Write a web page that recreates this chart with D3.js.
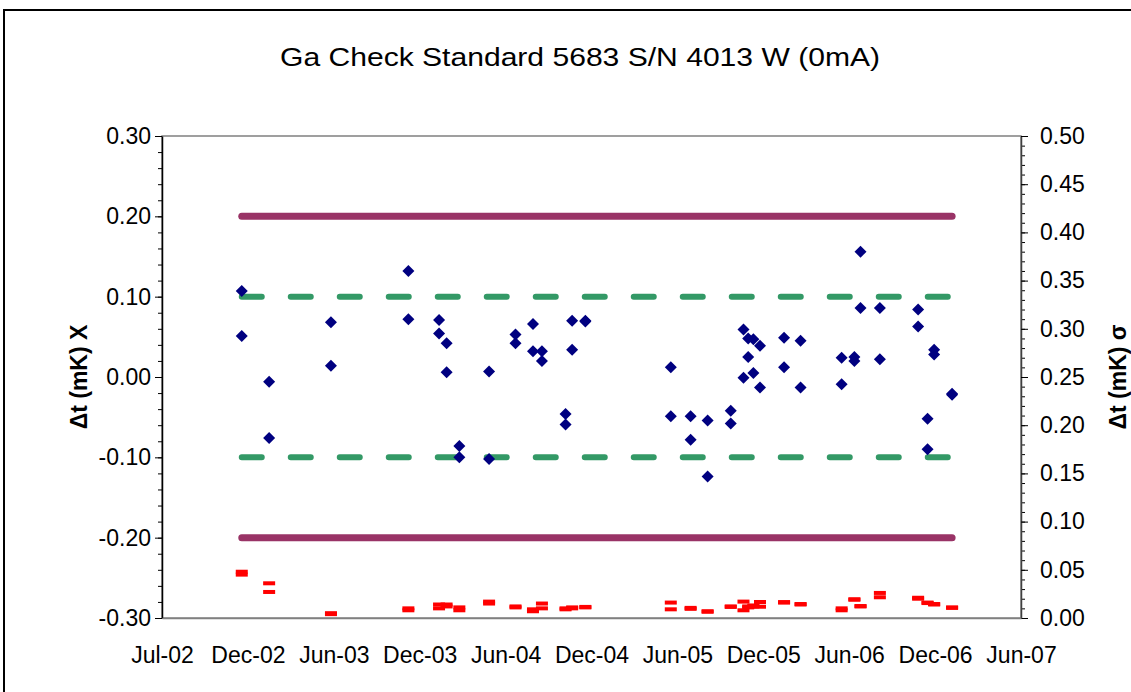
<!DOCTYPE html>
<html>
<head>
<meta charset="utf-8">
<script src="https://cdn.jsdelivr.net/npm/d3@7"></script>
<style>
  body { margin: 0; background: #fff; }
  svg { font-family: "Liberation Sans", Arial, sans-serif; }
</style>
</head>
<body>
<svg id="chart" width="1131" height="692"></svg>
<script>
// x axis ticks (Excel date axis, 182 day major unit)
var xTickDates = ["2002-07-01", "2002-12-30", "2003-06-30", "2003-12-29", "2004-06-28",
  "2004-12-27", "2005-06-27", "2005-12-26", "2006-06-26", "2006-12-25", "2007-06-25"];

// measurement dates, two readings each
var sampleDates = ["2002-12-17", "2003-02-13", "2003-06-24", "2003-12-05", "2004-02-08",
  "2004-02-24", "2004-03-22", "2004-05-24", "2004-07-19", "2004-08-25", "2004-09-13",
  "2004-11-02", "2004-11-16", "2004-12-14", "2005-06-13", "2005-07-25", "2005-08-30",
  "2005-10-18", "2005-11-14", "2005-11-24", "2005-12-05", "2005-12-19", "2006-02-08",
  "2006-03-15", "2006-06-10", "2006-07-07", "2006-07-20", "2006-08-30", "2006-11-19",
  "2006-12-09", "2006-12-23", "2007-01-30"];

// delta t (mK) X, left axis
var deltaA = [0.107, -0.006, 0.068, 0.132, 0.071, 0.042, -0.086, 0.007, 0.053, 0.066, 0.032,
  -0.046, 0.070, 0.070, 0.012, -0.049, -0.054, -0.042, 0.059, 0.048, 0.047, 0.039, 0.049,
  0.045, 0.024, 0.025, 0.156, 0.086, 0.084, -0.052, 0.034, -0.022];
var deltaB = [0.051, -0.076, 0.014, 0.072, 0.054, 0.006, -0.100, -0.102, 0.042, 0.032, 0.020,
  -0.059, 0.034, 0.069, -0.049, -0.078, -0.124, -0.058, -0.001, 0.025, 0.005, -0.013, 0.012,
  -0.013, -0.009, 0.020, 0.086, 0.022, 0.063, -0.090, 0.028, -0.021];

// sigma (mK), right axis
var sigmaA = [0.048, 0.036, 0.005, 0.010, 0.014, 0.014, 0.011, 0.017, 0.012, 0.009, 0.015,
  0.010, 0.011, 0.0115, 0.016, 0.0105, 0.007, 0.012, 0.017, 0.012, 0.013, 0.0166, 0.0165,
  0.0145, 0.010, 0.0194, 0.0124, 0.026, 0.021, 0.016, 0.0145, 0.011];
var sigmaB = [0.045, 0.027, 0.004, 0.008, 0.010, 0.012, 0.008, 0.015, 0.011, 0.007, 0.010,
  0.009, 0.010, 0.011, 0.009, 0.0095, 0.0065, 0.0115, 0.008, 0.011, 0.012, 0.0117, 0.016,
  0.014, 0.008, 0.019, 0.012, 0.0215, 0.020, 0.0155, 0.014, 0.0105];

var controlLimits = [0.20, -0.20];
var warningLimits = [0.10, -0.10];

var svg = d3.select("#chart");
var plotLeft = 162, plotRight = 1021, plotTop = 136, plotBottom = 618;
var parse = d3.timeParse("%Y-%m-%d");

var x = d3.scaleTime()
  .domain([parse(xTickDates[0]), parse(xTickDates[xTickDates.length - 1])])
  .range([plotLeft, plotRight]);
var y = d3.scaleLinear().domain([-0.3, 0.3]).range([plotBottom, plotTop]);
var y2 = d3.scaleLinear().domain([0, 0.5]).range([plotBottom, plotTop]);

// outer chart border
svg.append("rect")
  .attr("x", 4).attr("y", 10).attr("width", 1140).attr("height", 700)
  .attr("fill", "none").attr("stroke", "#000").attr("stroke-width", 2);

svg.append("text")
  .attr("x", 580).attr("y", 66)
  .attr("text-anchor", "middle")
  .attr("textLength", 600).attr("lengthAdjust", "spacingAndGlyphs")
  .style("font-size", "25px")
  .text("Ga Check Standard 5683 S/N 4013 W (0mA)");

// plot area frame
svg.append("rect")
  .attr("x", plotLeft).attr("y", plotTop)
  .attr("width", plotRight - plotLeft).attr("height", plotBottom - plotTop)
  .attr("fill", "none").attr("stroke", "#808080").attr("stroke-width", 1.5);

function fmt(v) { return v.toFixed(2); }

// left axis, minor then major
svg.append("g")
  .attr("transform", "translate(" + plotLeft + ",0)")
  .call(d3.axisLeft(y).tickValues(d3.range(-15, 16).map(function (k) { return k / 50; }))
    .tickSize(4).tickFormat(""))
  .call(function (g) { g.select(".domain").remove(); });
var yAxis = svg.append("g")
  .attr("transform", "translate(" + plotLeft + ",0)")
  .call(d3.axisLeft(y).tickValues(d3.range(-3, 4).map(function (k) { return k / 10; }))
    .tickSize(7).tickSizeOuter(0).tickPadding(4).tickFormat(fmt));
yAxis.selectAll("text").style("font-size", "23px");
yAxis.select(".domain").attr("stroke-width", 1.5);

// right axis
svg.append("g")
  .attr("transform", "translate(" + plotRight + ",0)")
  .call(d3.axisRight(y2).tickValues(d3.range(0, 51).map(function (k) { return k / 100; }))
    .tickSize(4).tickFormat(""))
  .call(function (g) { g.select(".domain").remove(); });
var y2Axis = svg.append("g")
  .attr("transform", "translate(" + plotRight + ",0)")
  .call(d3.axisRight(y2).tickValues(d3.range(0, 11).map(function (k) { return k / 20; }))
    .tickSize(7).tickSizeOuter(0).tickPadding(12).tickFormat(fmt));
y2Axis.selectAll("text").style("font-size", "23px");
y2Axis.select(".domain").attr("stroke", "#404040").attr("stroke-width", 1.5);

// bottom axis, labels only
var xAxis = svg.append("g")
  .attr("transform", "translate(0," + plotBottom + ")")
  .call(d3.axisBottom(x).tickValues(xTickDates.map(parse))
    .tickSize(0).tickPadding(29).tickFormat(d3.timeFormat("%b-%y")));
xAxis.select(".domain").attr("stroke", "#808080").attr("stroke-width", 1.5);
xAxis.selectAll("text").style("font-size", "23px");

svg.selectAll(".tick line").attr("stroke", "#000");

// axis titles
svg.append("text")
  .attr("transform", "translate(87," + (plotTop + plotBottom) / 2 + ") rotate(-90)")
  .attr("text-anchor", "middle")
  .style("font-size", "23px").style("font-weight", "bold")
  .text("Δt (mK) X");
svg.append("text")
  .attr("transform", "translate(1126," + (plotTop + plotBottom) / 2 + ") rotate(-90)")
  .attr("text-anchor", "middle")
  .style("font-size", "23px").style("font-weight", "bold")
  .text("Δt (mK) σ");

// limit lines span the measurement period
var firstDate = parse(sampleDates[0]), lastDate = parse(sampleDates[sampleDates.length - 1]);

svg.selectAll(".control").data(controlLimits).enter().append("line")
  .attr("class", "control")
  .attr("x1", x(firstDate)).attr("x2", x(lastDate))
  .attr("y1", function (d) { return y(d); }).attr("y2", function (d) { return y(d); })
  .attr("stroke", "#993366").attr("stroke-width", 7).attr("stroke-linecap", "round");

svg.selectAll(".warning").data(warningLimits).enter().append("line")
  .attr("class", "warning")
  .attr("x1", x(firstDate)).attr("x2", x(lastDate))
  .attr("y1", function (d) { return y(d); }).attr("y2", function (d) { return y(d); })
  .attr("stroke", "#339966").attr("stroke-width", 6).attr("stroke-linecap", "round")
  .attr("stroke-dasharray", "20 29");

// X readings
var points = [];
sampleDates.forEach(function (d, i) {
  points.push({ date: parse(d), v: deltaA[i], s: sigmaA[i] });
  points.push({ date: parse(d), v: deltaB[i], s: sigmaB[i] });
});

svg.selectAll(".pt").data(points).enter().append("path")
  .attr("class", "pt")
  .attr("d", "M0,-6L6,0L0,6L-6,0Z")
  .attr("transform", function (d) { return "translate(" + x(d.date) + "," + y(d.v) + ")"; })
  .attr("fill", "#000080");

// sigma readings
svg.selectAll(".sg").data(points).enter().append("rect")
  .attr("class", "sg")
  .attr("x", function (d) { return x(d.date) - 6; })
  .attr("y", function (d) { return y2(d.s) - 2; })
  .attr("width", 12).attr("height", 4)
  .attr("fill", "#ff0000");
</script>
</body>
</html>
